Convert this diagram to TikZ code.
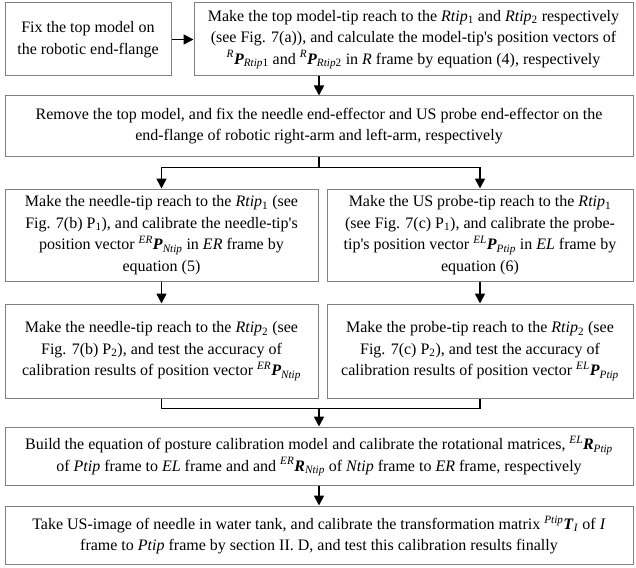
\documentclass[tikz,border=0pt]{standalone}
\usepackage{fontspec}
\setmainfont{Liberation Serif}
\usetikzlibrary{arrows.meta}
\tikzstyle{process} = [rectangle, text centered, align=center, draw=black!50, line width=1pt, inner sep=2pt, font=\fontsize{16}{21.5}\selectfont]
\tikzstyle{arrow} = [line width=1.7pt,->,>={Triangle[length=10pt,width=10pt]}]
\tikzstyle{line} = [line width=1.7pt,-]
\newcommand{\vect}[3]{\textsuperscript{\textit{#1}}\textbf{\textit{#2}}\textsubscript{\textit{#3}}}

\begin{document}
\begin{tikzpicture}[x=1pt, y=-1pt]
    \useasboundingbox (0,0) rectangle (636,567);
    \node (fix) [process, minimum width=166pt, minimum height=73pt] at (88,39.5) {Fix the top model on \\ the robotic end-flange};
    \node (reach) [process, minimum width=439pt, minimum height=73pt] at (413.5,39.5) {Make the top model-tip reach to the \textit{Rtip}\textsubscript{1} and \textit{Rtip}\textsubscript{2} respectively \\ (see Fig. 7(a)), and calculate the model-tip\textquotesingle s position  vectors of \\ \vect{R}{P}{Rtip\textup{1}} and \vect{R}{P}{Rtip\textup{2}} in \textit{R} frame by equation (4), respectively};
    \node (remove) [process, minimum width=628pt, minimum height=60pt] at (319,126) {Remove the top model, and fix the needle end-effector and US probe end-effector on the \\ end-flange of robotic right-arm and left-arm, respectively};
    \node (needle1) [process, minimum width=313pt, minimum height=92pt] at (161.5,235) {Make the needle-tip reach to the  \textit{Rtip}\textsubscript{1} (see \\ Fig. 7(b) P\textsubscript{1}), and calibrate the needle-tip\textquotesingle s \\ position vector \vect{ER}{P}{Ntip} in  \textit{ER} frame by \\ equation (5)};
    \node (probe1) [process, minimum width=306pt, minimum height=92pt] at (480,235) {Make the US probe-tip reach to the  \textit{Rtip}\textsubscript{1} \\ (see Fig. 7(c) P\textsubscript{1}), and calibrate the probe- \\ tip\textquotesingle s position vector \vect{EL}{P}{Ptip} in  \textit{EL} frame by \\ equation (6)};
    \node (needle2) [process, minimum width=313pt, minimum height=94pt] at (161.5,351) {Make the needle-tip reach to the  \textit{Rtip}\textsubscript{2} (see \\ Fig. 7(b) P\textsubscript{2}), and test the accuracy of \\ calibration results of  position vector \vect{ER}{P}{Ntip}};
    \node (probe2) [process, minimum width=306pt, minimum height=94pt] at (480,351) {Make the probe-tip reach to the  \textit{Rtip}\textsubscript{2} (see \\ Fig. 7(c) P\textsubscript{2}), and test the accuracy of \\ calibration results of  position vector \vect{EL}{P}{Ptip}};
    \node (posture) [process, minimum width=628pt, minimum height=58pt] at (319,456) {Build the equation of posture calibration model and calibrate the rotational matrices, \vect{EL}{R}{Ptip} \\ of \textit{Ptip} frame to \textit{EL} frame and and  \vect{ER}{R}{Ntip} of \textit{Ntip} frame to \textit{ER} frame, respectively};
    \node (usimage) [process, minimum width=628pt, minimum height=58pt] at (319,535) {Take US-image of needle in water tank, and calibrate the transformation matrix \vect{Ptip}{T}{I} of \textit{I} \\ frame to \textit{Ptip} frame by section II. D, and test this calibration results finally};

    \draw [arrow] (fix) -- (reach);
    \draw [arrow] (reach.south -| remove.north) -- (remove);
    \draw [line] (remove.south) -- ++(0,11) coordinate (split);
    \draw [arrow] (split) -| (needle1);
    \draw [arrow] (split) -| (probe1);
    \draw [arrow] (needle1) -- (needle2);
    \draw [arrow] (probe1) -- (probe2);
    \draw [line] (needle2.south) -- ++(0,10) coordinate (join) -| (probe2.south);
    \draw [arrow] (join -| posture.north) -- (posture);
    \draw [arrow] (posture) -- (usimage);
\end{tikzpicture}
\end{document}
